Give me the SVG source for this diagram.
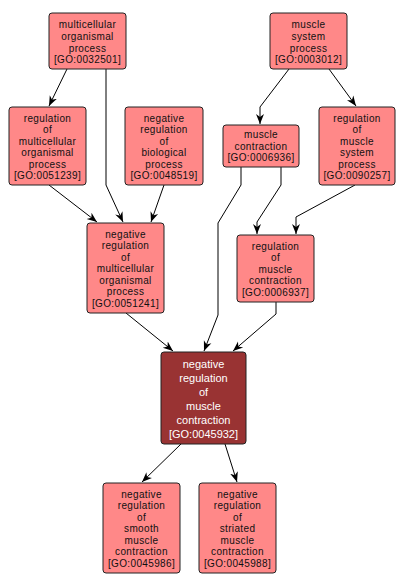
<svg xmlns="http://www.w3.org/2000/svg" width="406" height="588" viewBox="0 0 406 588">
<style>
.n rect{fill:#ff8888;stroke:#222;stroke-width:1}
.n text{font-family:"Liberation Sans",Arial,sans-serif;font-size:10px;fill:#111;text-anchor:middle;letter-spacing:0.35px}
.m rect{fill:#993333;stroke:#222;stroke-width:1}
.m text{font-family:"Liberation Sans",Arial,sans-serif;font-size:11px;fill:#fff;text-anchor:middle}
#edges path{fill:none;stroke:#000;stroke-width:1;marker-end:url(#ah)}
</style>
<defs>
<marker id="ah" markerUnits="userSpaceOnUse" markerWidth="10" markerHeight="10" viewBox="0 0 10 10" refX="10" refY="5" orient="auto">
<path d="M0,1 L10,5 L0,9 L3,5 z" fill="#000"/>
</marker>
</defs>
<rect width="406" height="588" fill="#fff"/>
<g id="edges">
<path d="M67,69 L49,106"/>
<path d="M106,69 L106,185 L123,222"/>
<path d="M49,185 L97,222"/>
<path d="M164,185 L151,222"/>
<path d="M289,69 L260,107 L260,124"/>
<path d="M329,69 L356,106"/>
<path d="M241,167 L241,185 L218,223 L218,315 L204,351"/>
<path d="M281,167 L281,185 L257,222 L257,234"/>
<path d="M355,185 L296,217 L296,234"/>
<path d="M126,313 L173,351"/>
<path d="M276,302 L276,314 L233,351"/>
<path d="M181,444 L142,482"/>
<path d="M225,444 L237,482"/>
</g>
<g id="n1" class="n"><rect x="49" y="13" width="77" height="56" rx="3"/>
<text x="87.5" y="27.5">multicellular</text><text x="87.5" y="39.5">organismal</text><text x="87.5" y="51.5">process</text><text x="87.5" y="63">[GO:0032501]</text></g>
<g id="n2" class="n"><rect x="270" y="13" width="77" height="56" rx="3"/>
<text x="308.5" y="27.5">muscle</text><text x="308.5" y="39.5">system</text><text x="308.5" y="51.5">process</text><text x="308.5" y="63">[GO:0003012]</text></g>
<g id="n3" class="n"><rect x="9" y="107" width="77" height="78" rx="3"/>
<text x="47.5" y="121.5">regulation</text><text x="47.5" y="133">of</text><text x="47.5" y="144.5">multicellular</text><text x="47.5" y="156">organismal</text><text x="47.5" y="167.5">process</text><text x="47.5" y="179">[GO:0051239]</text></g>
<g id="n4" class="n"><rect x="125" y="107" width="78" height="78" rx="3"/>
<text x="164" y="121.5">negative</text><text x="164" y="133">regulation</text><text x="164" y="144.5">of</text><text x="164" y="156">biological</text><text x="164" y="167.5">process</text><text x="164" y="179">[GO:0048519]</text></g>
<g id="n5" class="n"><rect x="223" y="125" width="76" height="42" rx="3"/>
<text x="261" y="138">muscle</text><text x="261" y="149.5">contraction</text><text x="261" y="161">[GO:0006936]</text></g>
<g id="n6" class="n"><rect x="319" y="107" width="76" height="78" rx="3"/>
<text x="357" y="121.5">regulation</text><text x="357" y="133">of</text><text x="357" y="144.5">muscle</text><text x="357" y="156">system</text><text x="357" y="167.5">process</text><text x="357" y="179">[GO:0090257]</text></g>
<g id="n7" class="n"><rect x="87" y="223" width="77" height="90" rx="3"/>
<text x="125.5" y="237.5">negative</text><text x="125.5" y="249">regulation</text><text x="125.5" y="260.5">of</text><text x="125.5" y="272">multicellular</text><text x="125.5" y="283.5">organismal</text><text x="125.5" y="295">process</text><text x="125.5" y="306.5">[GO:0051241]</text></g>
<g id="n8" class="n"><rect x="237" y="235" width="77" height="67" rx="3"/>
<text x="275.5" y="249.5">regulation</text><text x="275.5" y="261">of</text><text x="275.5" y="272.5">muscle</text><text x="275.5" y="284">contraction</text><text x="275.5" y="295.5">[GO:0006937]</text></g>
<g id="n9" class="m"><rect x="161" y="352" width="85" height="92" rx="3"/>
<text x="203.5" y="368">negative</text><text x="203.5" y="382">regulation</text><text x="203.5" y="396">of</text><text x="203.5" y="410">muscle</text><text x="203.5" y="424">contraction</text><text x="203.5" y="438">[GO:0045932]</text></g>
<g id="n10" class="n"><rect x="103" y="483" width="77" height="90" rx="3"/>
<text x="141.5" y="497.5">negative</text><text x="141.5" y="509">regulation</text><text x="141.5" y="520.5">of</text><text x="141.5" y="532">smooth</text><text x="141.5" y="543.5">muscle</text><text x="141.5" y="555">contraction</text><text x="141.5" y="566.5">[GO:0045986]</text></g>
<g id="n11" class="n"><rect x="199" y="483" width="77" height="90" rx="3"/>
<text x="237.5" y="497.5">negative</text><text x="237.5" y="509">regulation</text><text x="237.5" y="520.5">of</text><text x="237.5" y="532">striated</text><text x="237.5" y="543.5">muscle</text><text x="237.5" y="555">contraction</text><text x="237.5" y="566.5">[GO:0045988]</text></g>
</svg>
